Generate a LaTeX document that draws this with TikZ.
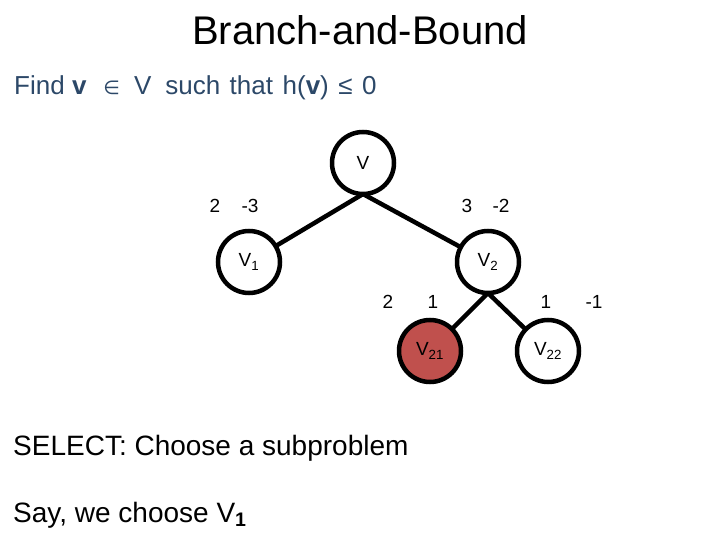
\documentclass[tikz,border=0pt]{standalone}
\usepackage{fontspec}
\setmainfont{Liberation Sans}
\newfontfamily\symfont{DejaVu Sans}
\definecolor{findblue}{RGB}{44,72,104}
\definecolor{pickred}{RGB}{192,80,77}
\tikzset{
  bbnode/.style={circle, draw=black, line width=4.5pt, minimum size=62pt,
                 inner sep=0pt, outer sep=0pt, font=\fontsize{19}{19}\selectfont},
  bbedge/.style={line width=4.5pt},
  bound/.style={font=\fontsize{19}{19}\selectfont, inner sep=0pt}
}
\begin{document}
\begin{tikzpicture}[x=1pt, y=-1pt]
    \useasboundingbox (0, 0) rectangle (720, 540);
    % 标题与说明文字
    \node (title) [anchor=base, font=\fontsize{40}{40}\selectfont] at (360, 45) {Branch-and-Bound};
    \node (goal) [anchor=base west, inner sep=0pt, text=findblue, font=\fontsize{26}{26}\selectfont]
        at (14, 95) {Find \textbf{v}\hspace{17pt}{\symfont\fontsize{19}{19}\selectfont ∈}\hspace{14pt}V\hspace{14pt}such\hspace{9.5pt}that\hspace{9.5pt}h(\textbf{v})\hspace{9.5pt}≤\hspace{9.5pt}0};
    \node (select) [anchor=base west, inner sep=0pt, font=\fontsize{28}{28}\selectfont]
        at (13, 455) {SELECT: Choose a subproblem};
    \node (say) [anchor=base west, inner sep=0pt, font=\fontsize{28}{28}\selectfont]
        at (13, 522) {Say, we choose V\textsubscript{\textbf{1}}};
    % 搜索树
    \node (v)   [bbnode] at (363, 163) {V};
    \node (v1)  [bbnode] at (249, 262) {V\textsubscript{1}};
    \node (v2)  [bbnode] at (488, 262) {V\textsubscript{2}};
    \node (v21) [bbnode, fill=pickred] at (430, 351) {V\textsubscript{21}};
    \node (v22) [bbnode] at (548, 351) {V\textsubscript{22}};
    \draw [bbedge] (v.south) -- (v1);
    \draw [bbedge] (v.south) -- (v2);
    \draw [bbedge] (v2.south) -- (v21);
    \draw [bbedge] (v2.south) -- (v22);
    % 各分支上的界
    \node (b1a)  [bound] at (215, 206) {2};
    \node (b1b)  [bound] at (250, 206) {-3};
    \node (b2a)  [bound] at (467, 206) {3};
    \node (b2b)  [bound] at (501, 206) {-2};
    \node (b21a) [bound] at (388, 302) {2};
    \node (b21b) [bound] at (433, 302) {1};
    \node (b22a) [bound] at (546, 302) {1};
    \node (b22b) [bound] at (594, 302) {-1};
\end{tikzpicture}
\end{document}
